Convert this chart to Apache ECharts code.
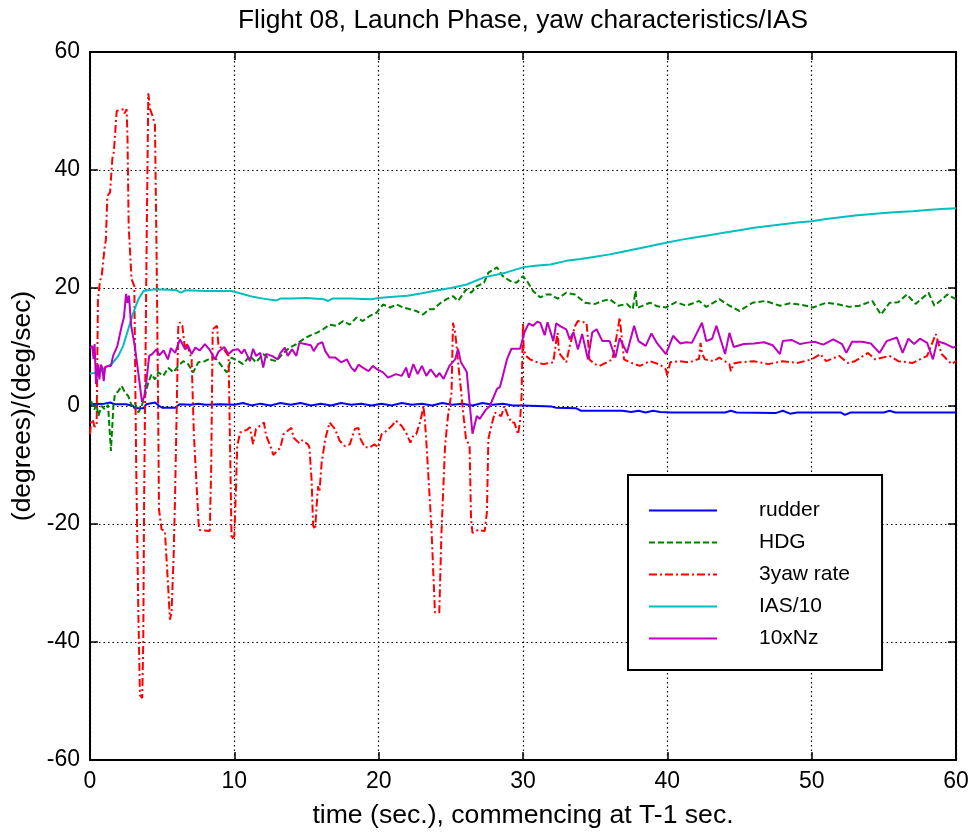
<!DOCTYPE html>
<html>
<head>
<meta charset="utf-8">
<script src="https://cdn.jsdelivr.net/npm/echarts@6/dist/echarts.min.js"></script>
<style>
  html, body { margin: 0; padding: 0; background: #fff; }
  #chart { width: 973px; height: 834px; }
</style>
</head>
<body>
<div id="chart"></div>
<script>
// Flight 08 launch phase: yaw-related channels vs time (s), each as [time, value]
const xTicks = [0, 10, 20, 30, 40, 50, 60];
const yTicks = [-60, -40, -20, 0, 20, 40, 60];

const rudder = [
  [0, 0.3], [1.0, 0.4], [1.1, 0.7], [1.4, 0.6], [1.7, 0.3], [2.5, 0.3], [3.0, 0.0], [3.1, -0.4],
  [3.7, -0.4], [3.9, 0.3], [4.0, 0.6], [4.5, 0.6], [4.8, 0.0], [5.0, -0.3], [5.9, -0.3], [6.2, 0.3],
  [7.0, 0.2], [7.5, 0.4], [8.0, 0.2], [9.0, 0.3], [10.0, 0.2], [10.6, 0.5], [11.2, 0.1], [11.8, 0.4],
  [12.5, 0.1], [13.2, 0.5], [13.9, 0.2], [14.6, 0.5], [15.3, 0.1], [16.0, 0.4], [16.7, 0.1], [17.4, 0.5],
  [18.1, 0.2], [18.8, 0.4], [19.5, 0.1], [20.2, 0.4], [20.9, 0.1], [21.6, 0.5], [22.3, 0.2], [23.0, 0.4],
  [23.7, 0.1], [24.4, 0.5], [25.1, 0.2], [25.8, 0.4], [26.5, 0.1], [27.2, 0.5], [27.9, 0.2], [28.6, 0.4],
  [29.3, 0.1], [30.0, 0.1], [31.0, 0.0], [32.0, -0.1], [32.3, -0.3], [33.7, -0.4], [34.0, -0.8],
  [36.9, -0.8], [37.5, -1.0], [38.0, -0.8], [38.5, -1.1], [39.0, -0.8], [39.5, -1.0], [40.3, -1.1],
  [44.0, -1.1], [44.4, -0.8], [44.8, -1.1], [47.5, -1.2], [48.0, -0.8], [48.5, -1.3], [49.0, -1.1],
  [52.0, -1.1], [52.3, -1.5], [52.7, -1.1], [55.0, -1.1], [55.4, -0.8], [55.8, -1.1], [60.0, -1.1]
];

const hdg = [
  [0.07, 0.85], [0.3, -0.6], [0.45, 0.3], [0.58, -1.7], [0.8, 0], [1.04, -0.6], [1.25, 0.2], [1.45, -7.6],
  [1.62, 0], [1.73, 2], [1.96, 2.5], [2.19, 3.4], [2.42, 2.3], [2.65, 1.7], [2.89, 0], [3.1, 0.6],
  [3.35, -1.1], [3.58, 0], [3.8, 1.7], [4.04, 4], [4.27, 5.4], [4.5, 4.5], [4.73, 5.7], [5.08, 5.1],
  [5.42, 6.5], [5.77, 5.7], [6.12, 6.8], [6.46, 7.6], [6.8, 7.1], [7.15, 5.7], [7.5, 7.4], [7.96, 7.6],
  [8.43, 8.2], [8.77, 7.9], [9.12, 6.8], [9.47, 5.7], [9.81, 8.2], [10.27, 7.6], [10.6, 7.1], [11.08, 8.5],
  [11.5, 7.4], [12, 8.8], [12.47, 7.9], [12.9, 7.6], [13.4, 9], [13.85, 9.9], [14.3, 10.5], [14.77, 11.3],
  [15.2, 11.9], [15.7, 12.4], [16.15, 13], [16.6, 13.8], [17.07, 13.6], [17.54, 14.4], [18, 13.8],
  [18.47, 15], [18.9, 14.4], [19.4, 15.3], [19.85, 15.8], [20.3, 17.2], [20.8, 16.7], [21.24, 17.2],
  [21.7, 16.7], [22.16, 16.4], [22.6, 16.1], [23.08, 15.5], [23.5, 16.4], [23.8, 16.4], [24.3, 17.5],
  [24.7, 18.1], [25.16, 18.6], [25.5, 17.8], [26.07, 19.8], [26.4, 19.2], [26.8, 20.3], [27.3, 20.9],
  [27.6, 22.6], [28.2, 23.5], [28.6, 22], [29.1, 21.2], [29.55, 20.9], [30, 22], [30.35, 20.9],
  [30.7, 19.5], [31.2, 18.4], [31.6, 18.9], [31.9, 18.9], [32.4, 18.2], [33, 19.2], [33.6, 18.9],
  [34.3, 17.5], [35, 17.3], [35.5, 17.8], [36, 18.1], [36.6, 17], [37.2, 17.3], [37.6, 16.4], [37.8, 19.5],
  [37.9, 16.6], [38.8, 17.5], [39.3, 16.9], [39.9, 16.7], [40.6, 17.6], [41.3, 17], [42.2, 17.8],
  [42.7, 16.8], [43.6, 18.1], [44.3, 17], [45, 16.1], [45.9, 17.5], [46.8, 17.8], [47.8, 17], [48.5, 17.4],
  [49.2, 17.2], [50.1, 16.7], [51, 17.5], [51.9, 17.2], [52.6, 16.8], [53.3, 17], [54.2, 17.8], [54.8, 15.5],
  [55.4, 17.5], [56, 17.6], [56.6, 18.9], [57.2, 17.3], [58.1, 19.2], [58.5, 17], [59, 18], [59.4, 18.9],
  [60, 18.1]
];

const yawRate3 = [
  [0, -4.8], [0.07, -2.8], [0.2, -2.3], [0.3, -3.5], [0.46, -3.4], [0.55, 18], [0.69, 21.2], [0.81, 22],
  [1.0, 26.6], [1.1, 28.2], [1.2, 35.6], [1.39, 36.2], [1.55, 42], [1.65, 43], [1.85, 50], [2.3, 50.3],
  [2.4, 49.6], [2.54, 50.3], [2.6, 45.2], [2.68, 30.5], [2.88, 21.5], [3.07, 20.3], [3.2, -10], [3.35, -35],
  [3.46, -49], [3.62, -49.5], [3.69, -40], [3.75, -15.8], [3.92, 26.6], [4.04, 53], [4.16, 50.3],
  [4.3, 49.4], [4.5, 47.7], [4.62, 24.3], [4.72, 0], [4.78, -17.5], [4.96, -20.9], [5.19, -21.2],
  [5.4, -30], [5.54, -36.2], [5.65, -35], [5.8, -25], [5.89, -15.8], [6.05, 5], [6.12, 13.6], [6.23, 14.2],
  [6.4, 13.6], [6.5, 13.6], [6.58, 9.6], [6.7, 10.7], [7.04, 7.9], [7.2, -5], [7.55, -21], [8.3, -21.2],
  [8.4, -10], [8.5, 13], [8.8, 13.6], [8.9, 10.2], [9.3, 9.5], [9.6, 8.5], [9.81, -22.6], [10.0, -22],
  [10.1, -15], [10.2, -6.8], [10.4, -4.5], [10.9, -4], [11.08, -3.6], [11.3, -6.5], [11.5, -3.9],
  [12.05, -2.8], [12.2, -5], [12.5, -6.8], [12.7, -8.3], [13.2, -7], [13.4, -4.8], [13.96, -3.7],
  [14.1, -5.4], [14.5, -6.3], [14.7, -5.8], [15.1, -6.5], [15.2, -7], [15.35, -12.4], [15.46, -20.3],
  [15.6, -20.9], [15.7, -17], [15.8, -13.6], [15.9, -14.5], [16.05, -9.6], [16.3, -5.6], [16.6, -2.8],
  [16.97, -3.9], [17.3, -5.9], [17.66, -6.8], [18.0, -6.5], [18.35, -3.9], [18.6, -3.7], [18.7, -5.4],
  [19.05, -7], [19.4, -7], [19.7, -6.5], [19.97, -7], [20.2, -4.8], [20.55, -4.2], [20.9, -3.4],
  [21.2, -2.5], [21.6, -3.4], [21.9, -4.5], [22.2, -6.2], [22.4, -5], [22.6, -4.8], [22.9, -2.5],
  [23.1, 0], [23.2, -2.3], [23.3, -6], [23.4, -10], [23.65, -20.3], [23.9, -35], [24.2, -35],
  [24.35, -21.5], [24.6, -6.8], [24.8, -1.7], [25.05, 2.3], [25.15, 14.1], [25.3, 12.4], [25.4, 10.2],
  [25.5, 7.4], [25.7, 2.8], [25.85, -1], [26.05, -5.6], [26.3, -6.8], [26.4, -19.2], [26.5, -21.5],
  [26.9, -21], [27.35, -21.2], [27.5, -18], [27.6, -5.6], [27.8, -3.4], [28.05, -1.1], [28.3, -1.5],
  [28.5, -1.7], [28.7, 0], [28.97, -1.7], [29.2, -2.8], [29.4, -2.8], [29.66, -4.8], [29.8, -2.5],
  [29.9, 1.7], [30.0, 14.1], [30.05, 9.6], [30.2, 8.5], [30.5, 7.9], [31.0, 7.4], [31.4, 7.1], [32.1, 7.4],
  [32.3, 11], [32.4, 12.4], [32.5, 9], [33.0, 7.4], [33.24, 10.2], [33.6, 13.5], [33.8, 14.4], [34.2, 14.2],
  [34.4, 14.1], [34.5, 11.3], [34.6, 7.9], [34.97, 7.1], [35.3, 6.8], [35.8, 7.4], [36.2, 7.9], [36.5, 12],
  [36.7, 15], [36.85, 11.3], [37.0, 7.9], [37.4, 7.4], [38.1, 6.8], [38.8, 7.6], [39.5, 7], [39.9, 6.2],
  [40.0, 5.1], [40.2, 7.4], [40.86, 7.6], [41.55, 7.4], [42.2, 8], [42.3, 10.7], [42.4, 9], [42.6, 7.9],
  [43.2, 7.6], [43.6, 8.2], [44.3, 7.1], [44.4, 5.9], [44.6, 7.2], [45, 7.4], [46, 7.6], [47, 7.1],
  [48, 7.6], [49, 7.3], [50, 7.9], [50.6, 8.8], [51, 7.6], [51.9, 8.5], [52.5, 7.3], [53, 7.6], [53.9, 9],
  [54.4, 7.9], [55.4, 8.5], [56, 7.6], [57, 7.3], [58, 8.5], [58.6, 12.2], [59, 8.8], [59.7, 7.1], [60, 7.6]
];

const ias10 = [
  [0, 5.5], [0.69, 5.7], [1.04, 6.5], [1.5, 7.1], [1.96, 8.5], [2.3, 10.2], [2.65, 13], [3.0, 15.8],
  [3.35, 18.1], [3.7, 19.5], [3.8, 19.8], [4.5, 19.8], [5.5, 19.7], [6.0, 19.6], [6.3, 19.2], [6.6, 19.6],
  [8.0, 19.5], [9.8, 19.5], [10.7, 18.9], [11.3, 18.5], [12.0, 18.2], [12.9, 17.9], [13.2, 18.2],
  [14.0, 18.2], [15.0, 18.3], [16.2, 18.1], [16.5, 17.8], [16.8, 18.2], [18.0, 18.2], [19.5, 18.1],
  [20.0, 18.3], [21.0, 18.5], [22.0, 18.7], [23.0, 19.1], [23.8, 19.5], [25.0, 20.0], [26.1, 20.6],
  [27.3, 21.8], [28.8, 22.6], [30.0, 23.5], [31.0, 23.8], [31.9, 24.0], [33.0, 24.6], [34.0, 24.9],
  [35.0, 25.3], [36.0, 25.7], [37.0, 26.2], [38.0, 26.7], [39.0, 27.2], [40.0, 27.7], [41.0, 28.2],
  [42.0, 28.6], [43.0, 29.0], [44.0, 29.4], [45.0, 29.8], [46.0, 30.2], [47.0, 30.5], [48.0, 30.8],
  [49.0, 31.1], [50.0, 31.3], [51.0, 31.7], [52.0, 32.0], [53.0, 32.3], [54.0, 32.5], [55.0, 32.7],
  [56.0, 32.9], [57.0, 33.0], [58.0, 33.2], [59.0, 33.4], [60.0, 33.5]
];

const nz10 = [
  [0, 9.8], [0.15, 10.2], [0.25, 8], [0.32, 10.5], [0.42, 3.7], [0.55, 7], [0.65, 4.5], [0.75, 7],
  [0.85, 6.5], [0.95, 4.2], [1.05, 6.6], [1.3, 6.8], [1.45, 6.8], [1.6, 8.5], [1.9, 10.2], [2.2, 13.6],
  [2.35, 15], [2.5, 19], [2.6, 17.5], [2.7, 18.7], [2.85, 13.6], [3.1, 10.2], [3.4, 4.6], [3.6, 0.7],
  [3.75, 1.5], [3.9, 4], [4.1, 8.5], [4.3, 8.8], [4.6, 9.6], [4.8, 8.6], [5.1, 9.4], [5.4, 7.9],
  [5.6, 9.8], [5.9, 9], [6.23, 11.3], [6.4, 10.5], [6.6, 9.6], [6.8, 10.2], [7.04, 8.8], [7.3, 9.9],
  [7.6, 9.4], [7.96, 10.5], [8.3, 9.5], [8.66, 7.9], [8.9, 9.2], [9.3, 10], [9.6, 8.8], [9.9, 9.5],
  [10.27, 9.6], [10.5, 8.9], [10.7, 9.6], [11.08, 7.6], [11.3, 9.7], [11.5, 8.5], [11.8, 9.0], [12, 6.5],
  [12.2, 8.8], [12.6, 8.5], [13, 7.9], [13.2, 9], [13.5, 9.9], [13.7, 8.5], [14, 9.6], [14.3, 8.5],
  [14.5, 10.7], [14.9, 10.5], [15.3, 10.3], [15.5, 9.3], [15.8, 10.5], [16.1, 10.8], [16.3, 9.3],
  [16.6, 8.2], [17, 8.2], [17.4, 7.4], [17.8, 7.9], [18.1, 6.5], [18.35, 5.9], [18.6, 7.0], [18.9, 6.5],
  [19.3, 5.9], [19.6, 6.8], [19.9, 6.2], [20.3, 5.7], [20.65, 4.8], [21.2, 5.4], [21.6, 5.1], [21.9, 6.5],
  [22.1, 4.8], [22.4, 7.1], [22.7, 5.4], [23, 6.8], [23.3, 5.1], [23.6, 6.2], [24, 4.9], [24.2, 5.6],
  [24.5, 4.6], [24.9, 6.8], [25.3, 7.9], [25.5, 9.7], [25.7, 7.4], [26.1, 5.8], [26.5, -4.7], [26.8, -1.7],
  [27, -2.2], [27.4, -0.7], [27.7, 0], [28.2, 2.9], [28.4, 3.2], [28.6, 5.1], [28.9, 8], [29.2, 9.7],
  [29.8, 9.7], [30.1, 12.5], [30.4, 14], [30.7, 13.6], [31, 14.3], [31.2, 14.1], [31.5, 12], [31.7, 14.2],
  [32.1, 11], [32.3, 14], [32.6, 13.5], [33, 13], [33.24, 11.3], [33.5, 12.5], [33.8, 9.6], [34.1, 12.2],
  [34.5, 7.9], [34.8, 12.5], [35.1, 13], [35.5, 11], [36, 11], [36.4, 8.2], [36.7, 11.5], [37.2, 9],
  [37.7, 13.6], [38, 11], [38.5, 10.2], [38.9, 12.3], [39.3, 10.6], [39.9, 8.8], [40.4, 11.9],
  [40.9, 10.6], [41.3, 10.8], [41.7, 10.7], [42.4, 14.1], [42.7, 11], [43.1, 11.4], [43.4, 13.6],
  [44, 8.8], [44.3, 12.4], [44.6, 10], [45.3, 10.5], [46, 10.6], [46.7, 10.8], [47.3, 10.3], [47.8, 8.8],
  [48, 11], [48.6, 11.2], [49.2, 10.5], [49.6, 10.7], [50.2, 10.9], [50.8, 10.4], [51.5, 11.3],
  [52.1, 10.5], [52.4, 9], [52.8, 10.9], [53.5, 10.9], [54.1, 10.6], [54.7, 9], [55.2, 11], [55.9, 11.6],
  [56.3, 9], [56.7, 11.4], [57.1, 10.5], [57.5, 11.4], [58.0, 10.7], [58.4, 7.9], [58.7, 11], [59.2, 10.6],
  [59.8, 9.9], [60, 10.1]
];

const FONT = 'Liberation Sans, Arial, sans-serif';

function lineSeries(name, data, color, type) {
  return {
    name: name,
    type: 'line',
    data: data,
    symbol: 'none',
    showSymbol: false,
    smooth: false,
    clip: true,
    lineStyle: { color: color, width: 2, type: type },
    itemStyle: { color: color },
    emphasis: { disabled: true }
  };
}

const chart = echarts.init(document.getElementById('chart'), null, { renderer: 'canvas' });

const gridLine = { show: true, lineStyle: { color: '#000', width: 1.2, type: [1.5, 3] } };
const frameLine = { show: true, onZero: false, lineStyle: { color: '#000', width: 2 } };
const innerTick = { show: true, inside: true, length: 8, lineStyle: { color: '#000', width: 1.5 } };

chart.setOption({
  animation: false,
  backgroundColor: '#fff',
  title: {
    text: 'Flight 08, Launch Phase, yaw characteristics/IAS',
    left: 518, top: 3, textAlign: 'center',
    textStyle: { fontFamily: FONT, fontSize: 26.3, fontWeight: 'normal', color: '#000' }
  },
  grid: { left: 90, right: 17, top: 52, bottom: 73, containLabel: false },
  legend: {
    orient: 'vertical',
    left: 628, top: 475,
    backgroundColor: '#fff',
    borderColor: '#000', borderWidth: 2,
    padding: [25, 32, 21, 20],
    itemWidth: 68, itemHeight: 14, itemGap: 11,
    selectedMode: false,
    itemStyle: { opacity: 0 },
    textStyle: { fontFamily: FONT, fontSize: 21, color: '#000', padding: [0, 0, 0, 37] },
    data: ['rudder', 'HDG', '3yaw rate', 'IAS/10', '10xNz']
  },
  xAxis: [
    {
      type: 'value', min: xTicks[0], max: xTicks[xTicks.length - 1], interval: 10,
      name: 'time (sec.), commencing at T-1 sec.', nameLocation: 'middle', nameGap: 42,
      nameTextStyle: { fontFamily: FONT, fontSize: 26.6, color: '#000' },
      axisLine: frameLine, axisTick: innerTick, splitLine: gridLine,
      axisLabel: { fontFamily: FONT, fontSize: 23, color: '#000', margin: 10 }
    },
    {
      type: 'value', position: 'top', min: xTicks[0], max: xTicks[xTicks.length - 1], interval: 10,
      axisLine: frameLine, axisTick: innerTick, splitLine: { show: false }, axisLabel: { show: false }
    }
  ],
  yAxis: [
    {
      type: 'value', min: yTicks[0], max: yTicks[yTicks.length - 1], interval: 20,
      name: '(degrees)/(deg/sec)', nameLocation: 'middle', nameGap: 50, nameRotate: 90,
      nameTextStyle: { fontFamily: FONT, fontSize: 26.4, color: '#000' },
      axisLine: frameLine, axisTick: innerTick, splitLine: gridLine,
      axisLabel: { fontFamily: FONT, fontSize: 23, color: '#000', margin: 10 }
    },
    {
      type: 'value', position: 'right', min: yTicks[0], max: yTicks[yTicks.length - 1], interval: 20,
      axisLine: frameLine, axisTick: innerTick, splitLine: { show: false }, axisLabel: { show: false }
    }
  ],
  series: [
    lineSeries('rudder', rudder, '#0000ff', 'solid'),
    lineSeries('HDG', hdg, '#008000', [6, 3]),
    lineSeries('3yaw rate', yawRate3, '#ff0000', [8, 3, 2, 3]),
    lineSeries('IAS/10', ias10, '#00bfbf', 'solid'),
    lineSeries('10xNz', nz10, '#bf00bf', 'solid')
  ]
});
</script>
</body>
</html>
